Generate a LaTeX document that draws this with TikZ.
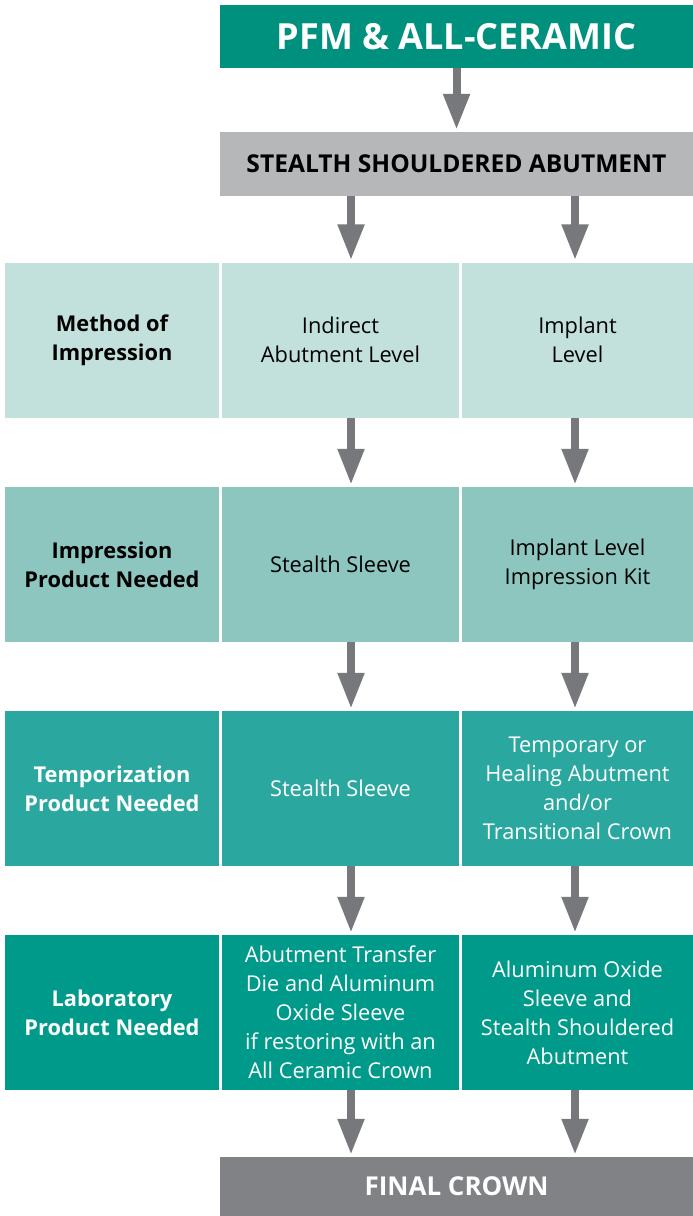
\documentclass[tikz,border=0pt]{standalone}
\usepackage{fontspec}
\setmainfont{Open Sans}
\usetikzlibrary{arrows.meta}

\definecolor{titleteal}{HTML}{00917E}
\definecolor{abutgray}{HTML}{B6B7B9}
\definecolor{rowone}{HTML}{C2E1DC}
\definecolor{rowtwo}{HTML}{8CC6BF}
\definecolor{rowthree}{HTML}{2AA8A0}
\definecolor{rowfour}{HTML}{009A8A}
\definecolor{crowngray}{HTML}{818285}
\definecolor{arrowgray}{HTML}{77787C}

\begin{document}
\begin{tikzpicture}[
  x=1pt, y=-1pt,
  every node/.style={inner sep=0pt, align=center},
  cell/.style={rectangle, minimum height=155pt, font=\fontsize{21.8}{29}\selectfont},
  lab/.style={cell, minimum width=214pt, font=\fontsize{21.8}{29}\selectfont\bfseries},
  colmid/.style={minimum width=237pt},
  colright/.style={minimum width=231pt},
  banner/.style={rectangle, minimum width=473pt},
  arrow/.style={draw=arrowgray, line width=8pt,
    -{Triangle[width=25pt, length=36pt]}, shorten >=2pt}]

  \useasboundingbox (0,0) rectangle (693,1216);

  % header boxes
  \node[banner, fill=titleteal, minimum height=63pt, text=white,
    font=\fontsize{36}{40}\selectfont\bfseries] (top) at (456.5,36.5) {PFM \& ALL-CERAMIC};
  \node[banner, fill=abutgray, minimum height=64pt,
    font=\fontsize{24.6}{28}\selectfont\bfseries] (abut) at (456.5,164) {STEALTH SHOULDERED ABUTMENT};

  % row 1
  \node[lab, fill=rowone] (l1) at (112,340) {Method of\\Impression};
  \node[cell, colmid, fill=rowone] (m1) at (340.5,340) {Indirect\\Abutment Level};
  \node[cell, colright, fill=rowone] (r1) at (577.5,340) {Implant\\Level};

  % row 2
  \node[lab, fill=rowtwo] (l2) at (112,564.5) {Impression\\Product Needed};
  \node[cell, colmid, fill=rowtwo] (m2) at (340.5,564.5) {Stealth Sleeve};
  \node[cell, colright, fill=rowtwo] (r2) at (577.5,564.5) {Implant Level\\Impression Kit};

  % row 3
  \node[lab, fill=rowthree, text=white] (l3) at (112,788.5) {Temporization\\Product Needed};
  \node[cell, colmid, fill=rowthree, text=white] (m3) at (340.5,788.5) {Stealth Sleeve};
  \node[cell, colright, fill=rowthree, text=white] (r3) at (577.5,788.5)
    {Temporary or\\Healing Abutment\\and/or\\Transitional Crown};

  % row 4
  \node[lab, fill=rowfour, text=white] (l4) at (112,1012.5) {Laboratory\\Product Needed};
  \node[cell, colmid, fill=rowfour, text=white] (m4) at (340.5,1012.5)
    {Abutment Transfer\\Die and Aluminum\\Oxide Sleeve\\if restoring with an\\All Ceramic Crown};
  \node[cell, colright, fill=rowfour, text=white] (r4) at (577.5,1012.5)
    {Aluminum Oxide\\Sleeve and\\Stealth Shouldered\\Abutment};

  % final box
  \node[banner, fill=crowngray, minimum height=59pt, text=white,
    font=\fontsize{26}{30}\selectfont\bfseries] (crown) at (456.5,1186.5) {FINAL CROWN};

  % arrow columns
  \coordinate (xl) at (351,0);
  \coordinate (xr) at (575,0);

  % arrows
  \draw[arrow] (top) -- (abut);
  \draw[arrow] (abut.south -| xl) -- (m1.north -| xl);
  \draw[arrow] (abut.south -| xr) -- (r1.north -| xr);
  \draw[arrow] (m1.south -| xl) -- (m2.north -| xl);
  \draw[arrow] (r1.south -| xr) -- (r2.north -| xr);
  \draw[arrow] (m2.south -| xl) -- (m3.north -| xl);
  \draw[arrow] (r2.south -| xr) -- (r3.north -| xr);
  \draw[arrow] (m3.south -| xl) -- (m4.north -| xl);
  \draw[arrow] (r3.south -| xr) -- (r4.north -| xr);
  \draw[arrow] (m4.south -| xl) -- (crown.north -| xl);
  \draw[arrow] (r4.south -| xr) -- (crown.north -| xr);
\end{tikzpicture}
\end{document}
